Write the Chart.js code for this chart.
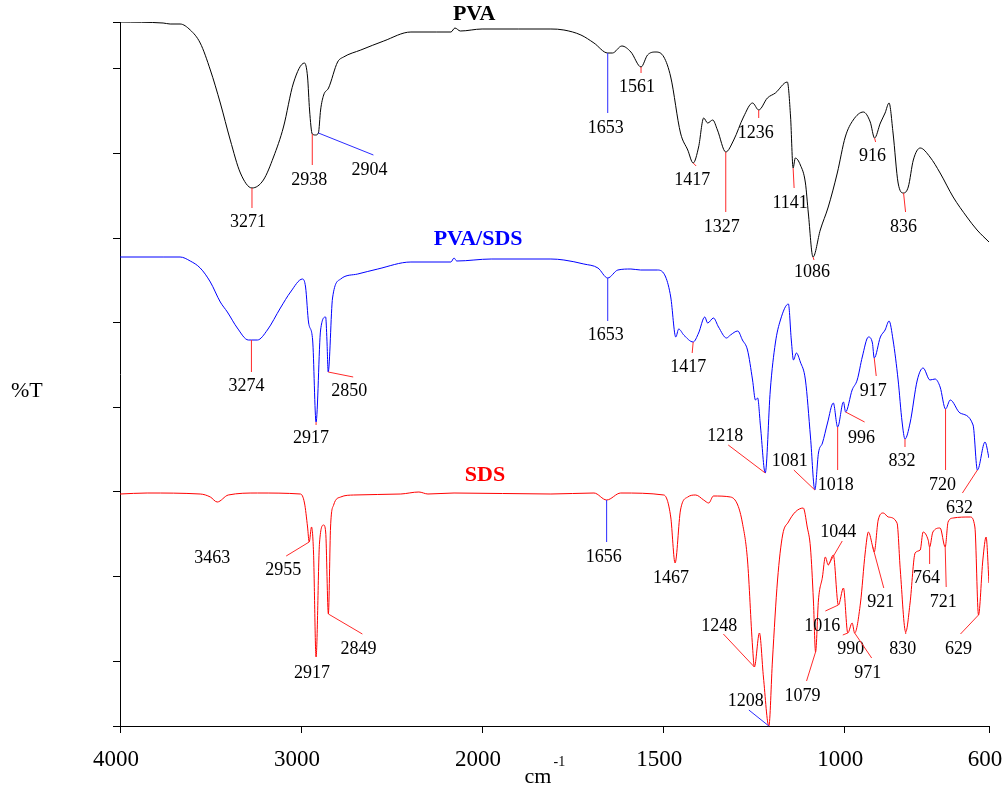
<!DOCTYPE html>
<html>
<head>
<meta charset="utf-8">
<title>FTIR spectra: PVA, PVA/SDS, SDS</title>
<script src="https://cdn.jsdelivr.net/npm/chart.js@4.4.1/dist/chart.umd.min.js"></script>
<style>
  html, body { margin: 0; padding: 0; background: #fff; }
  canvas { display: block; }
</style>
</head>
<body>
<canvas id="ftirChart" width="1003" height="796"></canvas>
<script>
// spectra, wavenumber (cm-1) against offset transmittance
const pvaWave = [4000, 3762, 3723, 3668, 3612, 3557, 3501, 3446, 3391, 3335, 3271, 3208, 3152, 3097, 3042, 2981, 2964, 2953, 2938, 2920, 2904, 2892, 2875, 2848, 2798, 2765, 2670, 2543, 2393, 2250, 2172, 2150, 2120, 2000, 1900, 1810, 1774, 1727, 1691, 1653, 1640, 1614, 1589, 1561, 1543, 1520, 1498, 1479, 1452, 1432, 1417, 1402, 1388, 1377, 1363, 1350, 1327, 1305, 1278, 1253, 1236, 1212, 1190, 1157, 1148, 1141, 1135, 1121, 1107, 1099, 1086, 1066, 1044, 1019, 997, 975, 947, 928, 916, 900, 887, 876, 865, 851, 836, 823, 809, 790, 763, 735, 699, 661, 633, 600];
const pvaT = [70.4, 70.3, 70.2, 70.2, 69.6, 68.3, 65.6, 62.3, 58.6, 55.3, 53.8, 54.6, 56.9, 59.9, 64.3, 66.3, 64.9, 61.6, 59.2, 59.1, 59.3, 61.6, 63.1, 63.8, 66.4, 66.9, 67.6, 68.5, 69.4, 69.4, 69.4, 69.8, 69.5, 69.7, 69.7, 69.7, 69.6, 69.1, 68.3, 67.3, 67.3, 68.0, 67.4, 65.9, 67.1, 67.4, 66.9, 64.9, 59.3, 57.6, 56.3, 57.9, 60.8, 60.3, 60.6, 59.6, 57.4, 58.6, 60.9, 62.3, 61.6, 62.8, 63.3, 64.4, 60.9, 55.8, 56.8, 56.1, 54.3, 51.3, 46.9, 49.6, 51.9, 55.3, 58.9, 60.6, 61.4, 60.4, 58.8, 60.3, 61.3, 62.3, 59.3, 54.3, 53.3, 53.9, 56.6, 57.8, 56.9, 55.3, 52.9, 50.9, 49.6, 48.4];

const pvaSdsWave = [4000, 3762, 3668, 3612, 3557, 3501, 3446, 3407, 3352, 3291, 3274, 3241, 3186, 3114, 3058, 2992, 2975, 2958, 2936, 2917, 2892, 2864, 2857, 2850, 2826, 2781, 2687, 2576, 2393, 2172, 2155, 2140, 1975, 1810, 1774, 1719, 1680, 1653, 1625, 1589, 1562, 1515, 1493, 1479, 1465, 1457, 1443, 1417, 1402, 1385, 1377, 1361, 1347, 1325, 1314, 1294, 1281, 1267, 1253, 1245, 1239, 1231, 1218, 1204, 1190, 1176, 1154, 1146, 1140, 1132, 1121, 1107, 1093, 1081, 1071, 1060, 1046, 1030, 1018, 1002, 996, 978, 964, 950, 933, 922, 917, 900, 887, 876, 865, 851, 840, 832, 818, 798, 782, 763, 749, 735, 720, 707, 680, 644, 632, 611, 600];
const pvaSdsT = [46.9, 46.9, 46.9, 46.5, 45.8, 44.4, 42.4, 41.4, 39.8, 38.6, 38.6, 38.6, 39.6, 41.8, 43.4, 44.7, 43.9, 40.3, 38.6, 30.4, 39.6, 40.9, 38.6, 35.4, 42.8, 44.7, 45.2, 45.7, 46.4, 46.4, 46.8, 46.5, 46.7, 46.7, 46.6, 46.2, 45.8, 44.8, 45.6, 45.7, 45.6, 45.6, 44.9, 42.9, 38.9, 39.7, 39.1, 38.4, 39.3, 40.9, 40.3, 40.8, 39.9, 38.8, 39.1, 39.5, 38.6, 37.6, 34.6, 32.6, 32.8, 29.9, 25.3, 33.6, 38.3, 40.6, 42.2, 38.6, 36.6, 37.3, 36.4, 34.6, 28.9, 23.6, 27.3, 28.3, 30.3, 32.3, 29.9, 32.4, 31.4, 33.6, 34.6, 36.9, 38.9, 38.3, 36.8, 38.9, 39.6, 40.5, 38.6, 34.6, 30.4, 28.7, 30.3, 34.6, 35.8, 34.6, 34.7, 33.9, 31.7, 32.6, 31.3, 30.1, 25.6, 28.4, 26.8];

const sdsWave = [4000, 3850, 3557, 3501, 3463, 3402, 3241, 3003, 2981, 2964, 2955, 2942, 2931, 2917, 2898, 2875, 2864, 2849, 2837, 2820, 2781, 2709, 2449, 2349, 2299, 2155, 1810, 1691, 1656, 1617, 1498, 1479, 1467, 1452, 1432, 1410, 1388, 1374, 1361, 1314, 1294, 1281, 1267, 1253, 1248, 1234, 1223, 1208, 1198, 1184, 1170, 1154, 1135, 1113, 1102, 1093, 1085, 1079, 1071, 1060, 1052, 1044, 1030, 1016, 1002, 990, 978, 971, 955, 942, 933, 921, 917, 906, 892, 878, 854, 845, 830, 818, 804, 790, 782, 768, 764, 755, 735, 721, 713, 699, 652, 639, 629, 617, 608, 600];
const sdsT = [23.2, 23.3, 23.2, 22.9, 22.4, 23.1, 23.3, 23.2, 22.3, 19.9, 18.4, 19.9, 17.3, 6.9, 18.3, 20.1, 19.4, 11.2, 19.9, 22.1, 22.9, 23.1, 23.2, 23.4, 23.2, 23.3, 23.2, 23.3, 22.6, 23.3, 23.1, 20.9, 16.3, 21.6, 22.9, 23.1, 22.6, 22.3, 23.0, 22.9, 22.1, 20.3, 16.6, 7.9, 5.9, 9.3, 4.9, 0.0, 6.6, 14.6, 19.1, 20.4, 21.4, 21.8, 19.9, 17.8, 12.6, 7.4, 12.6, 14.9, 16.9, 16.1, 17.1, 12.1, 13.8, 9.3, 10.3, 9.3, 12.3, 17.3, 19.4, 17.9, 17.4, 20.6, 21.3, 20.9, 20.3, 15.6, 9.4, 12.3, 17.3, 17.6, 19.4, 18.6, 17.9, 19.4, 19.8, 17.9, 20.4, 20.8, 20.9, 19.9, 11.1, 16.6, 18.9, 14.3];

// labelled band positions
const pvaPeaks = [3271, 2938, 2904, 1653, 1561, 1417, 1327, 1236, 1141, 1086, 916, 836];
const pvaSdsPeaks = [3274, 2917, 2850, 1653, 1417, 1218, 1081, 1018, 996, 917, 832, 720, 632];
const sdsPeaks = [3463, 2955, 2917, 2849, 1656, 1467, 1248, 1208, 1079, 1044, 1016, 990, 971, 921, 830, 764, 721, 629];

const xTickWaves = [4000, 3000, 2000, 1500, 1000, 600];

// leader line colour, line end offset, text centre offset (px from the band)
const pvaLeaders = [
    ['r', 0, 20, -4, 34], ['r', 0, 31, -3, 46], ['b', 55, 22, 51, 37], ['b', 0, 60, -2, 75],
    ['r', 0, 6, -4, 20], ['r', 3, 3, -1, 17], ['r', 0, 60, -4, 75], ['r', 0, 8, -3, 23],
    ['r', 1, 20, -3, 35], ['r', 1, 3, -1, 15], ['r', 1, 4, -2, 18], ['r', 2, 19, 0, 34]
];
const pvaSdsLeaders = [
    ['r', 0, 32, -5, 46], ['r', 0, 3, -5, 16], ['r', 25, 5, 21, 19], ['b', 0, 43, -2, 57],
    ['r', -1, 11, -5, 25], ['r', -37, -28, -40, -37], ['r', -21, -20, -25, -29], ['r', 0, 43, -2, 58],
    ['r', 19, 10, 16, 26], ['r', 2, 18, -1, 33], ['r', 0, 8, -3, 22], ['r', 0, 61, -3, 76],
    ['r', -15, 23, -18, 38]
];
const sdsLeaders = [
    [null, 0, 0, -5, 56], ['r', -23, 14, -26, 28], [null, 0, 0, -4, 16], ['r', 34, 20, 30, 35],
    ['b', 0, 42, -3, 57], [null, 0, 0, -4, 15], ['r', -31, -33, -35, -41], ['b', -20, -16, -23, -25],
    ['r', -9, 29, -13, 44], ['r', 14, -24, 10, -33], ['r', -13, 6, -16, 21], ['r', -5, 2, 3, 16],
    ['r', 17, 25, 13, 40], ['r', 11, 41, 8, 55], ['r', 0, 2, -3, 17], ['r', 0, 17, -3, 31],
    ['r', 1, 40, -2, 55], ['r', -18, 19, -20, 34]
];

const leaderColors = { r: '#ff2a2a', b: '#2a2aff' };
const serif = '"Liberation Serif", "Times New Roman", serif';

// the 4000-2000 part of the axis is drawn at half scale
function toAxis(w) {
    return w > 2000 ? 2000 + (w - 2000) / 2 : w;
}

function fromAxis(u) {
    return u > 2000 ? 2000 + (u - 2000) * 2 : u;
}

function toPoints(waves, values) {
    return waves.map((w, i) => ({ x: toAxis(w), y: values[i] }));
}

function valueAt(waves, values, w) {
    for (let i = 0; i < waves.length - 1; i++) {
        if (w <= waves[i] && w >= waves[i + 1]) {
            const t = (waves[i] - w) / (waves[i] - waves[i + 1]);
            return values[i] + t * (values[i + 1] - values[i]);
        }
    }
    return values[values.length - 1];
}

const spectra = [
    { name: 'PVA', color: '#000000', waves: pvaWave, values: pvaT, peaks: pvaPeaks, leaders: pvaLeaders, titleAt: [2044, 71.2] },
    { name: 'PVA/SDS', color: '#0000ff', waves: pvaSdsWave, values: pvaSdsT, peaks: pvaSdsPeaks, leaders: pvaSdsLeaders, titleAt: [2022, 48.7] },
    { name: 'SDS', color: '#ff0000', waves: sdsWave, values: sdsT, peaks: sdsPeaks, leaders: sdsLeaders, titleAt: [1992, 25.1] }
];

// y tick marks only, no numbers
const yTickValues = [0, 6.5, 14.96, 23.42, 31.88, 40.34, 48.8, 57.26, 65.72, 70.4];

const peakLabels = {
    id: 'peakLabels',
    afterDatasetsDraw(chart) {
        const ctx = chart.ctx;
        const xs = chart.scales.x;
        const ys = chart.scales.y;
        ctx.save();
        ctx.lineWidth = 1;
        ctx.textAlign = 'center';
        ctx.textBaseline = 'middle';

        spectra.forEach(s => {
            ctx.font = '18px ' + serif;
            s.peaks.forEach((p, i) => {
                const [col, lx, ly, tx, ty] = s.leaders[i];
                const px = xs.getPixelForValue(toAxis(p));
                const py = ys.getPixelForValue(valueAt(s.waves, s.values, p));
                if (col) {
                    ctx.strokeStyle = leaderColors[col];
                    ctx.beginPath();
                    ctx.moveTo(px, py);
                    ctx.lineTo(px + lx, py + ly);
                    ctx.stroke();
                }
                ctx.fillStyle = '#000';
                ctx.fillText(String(p), px + tx, py + ty);
            });

            ctx.font = 'bold 22px ' + serif;
            ctx.fillStyle = s.color;
            ctx.fillText(s.name, xs.getPixelForValue(toAxis(s.titleAt[0])), ys.getPixelForValue(s.titleAt[1]));
        });

        // axis titles
        ctx.fillStyle = '#000';
        ctx.textAlign = 'left';
        ctx.textBaseline = 'alphabetic';
        ctx.font = '22px ' + serif;
        ctx.fillText('%T', 11, (chart.chartArea.top + chart.chartArea.bottom) / 2 + 23);

        const mid = (xs.left + xs.right) / 2;
        ctx.fillText('cm', mid - 30, 783);
        ctx.font = '14px ' + serif;
        ctx.fillText('-1', mid - 1, 766);
        ctx.restore();
    }
};

const ctx = document.getElementById('ftirChart');

new Chart(ctx, {
    type: 'line',
    data: {
        datasets: spectra.map(s => ({
            label: s.name,
            data: toPoints(s.waves, s.values),
            borderColor: s.color,
            borderWidth: 1,
            pointRadius: 0,
            fill: false,
            cubicInterpolationMode: 'monotone'
        }))
    },
    options: {
        responsive: false,
        animation: false,
        layout: { padding: { top: 22, right: 14, bottom: 0, left: 0 } },
        plugins: {
            legend: { display: false },
            tooltip: { enabled: false }
        },
        scales: {
            x: {
                type: 'linear',
                reverse: true,
                min: 600,
                max: 3000,
                afterBuildTicks: scale => {
                    scale.ticks = xTickWaves.map(w => ({ value: toAxis(w) }));
                },
                afterFit: scale => {
                    scale.height = 70;
                    scale.paddingLeft = 0;
                    scale.paddingRight = 0;
                },
                grid: { drawOnChartArea: false, drawTicks: true, tickLength: 7, color: '#000', lineWidth: 1 },
                border: { display: true, color: '#000', width: 1 },
                ticks: {
                    color: '#000',
                    font: { family: serif, size: 23 },
                    padding: 13,
                    labelOffset: -4,
                    maxRotation: 0,
                    autoSkip: false,
                    callback: value => String(fromAxis(value))
                }
            },
            y: {
                type: 'linear',
                min: 0,
                max: 70.4,
                afterBuildTicks: scale => {
                    scale.ticks = yTickValues.map(v => ({ value: v }));
                },
                afterFit: scale => {
                    scale.width = 120;
                    scale.paddingTop = 0;
                    scale.paddingBottom = 0;
                },
                grid: { drawOnChartArea: false, drawTicks: true, tickLength: 7, color: '#000', lineWidth: 1 },
                border: { display: true, color: '#000', width: 1 },
                ticks: { display: false }
            }
        }
    },
    plugins: [peakLabels]
});
</script>
</body>
</html>
